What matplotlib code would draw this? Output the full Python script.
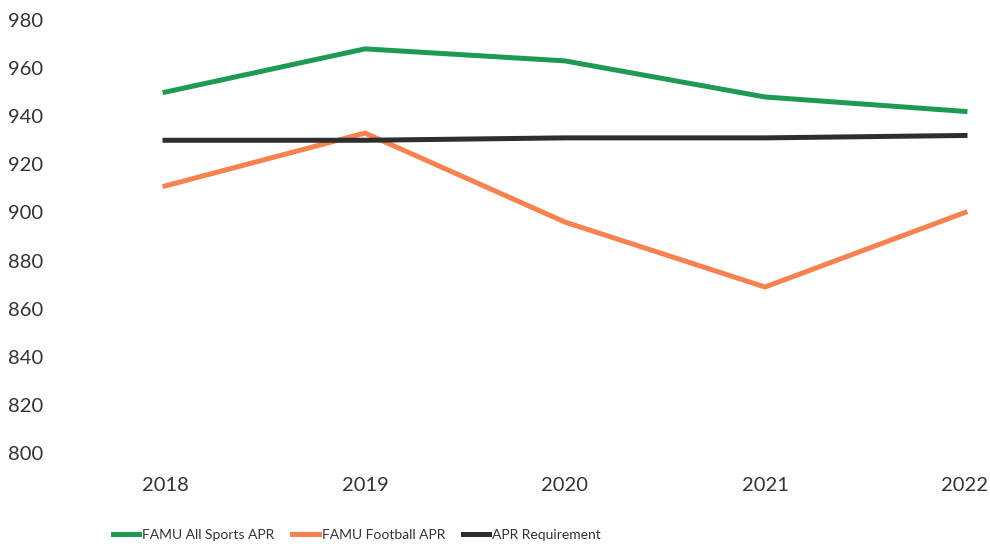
import matplotlib.pyplot as plt

years = ['2018', '2019', '2020', '2021', '2022']
all_sports = [950, 968, 963, 948, 942]
football = [911, 933, 896, 869, 900]
requirement = [930, 930, 931, 931, 932]

plt.rcParams['font.family'] = ['Lato', 'DejaVu Sans']

fig = plt.figure(figsize=(9.9, 5.46), dpi=100)
ax = fig.add_axes([65/990, 1 - 453/546, 925/990, 433/546])

x = range(len(years))
ax.plot(x, all_sports, color='#1f9a52', lw=3.6, label='FAMU All Sports APR')
ax.plot(x, football, color='#f7814f', lw=3.6, label='FAMU Football APR')
ax.plot(x, requirement, color='#2e2e2e', lw=3.6, label='APR Requirement')

ax.set_xlim(-0.5, 4.125)
ax.set_ylim(800, 980)
ax.set_yticks(range(800, 981, 20))
ax.set_xticks(list(x))
ax.set_xticklabels(years)
for s in ax.spines.values():
    s.set_visible(False)
ax.tick_params(axis='y', length=0, pad=16, labelsize=14.5, labelcolor='#333333')
ax.tick_params(axis='x', length=0, pad=17, labelsize=14.5, labelcolor='#333333')

fig.legend(loc='center', bbox_to_anchor=(357/990, 0.02), ncol=3, frameon=False,
           fontsize=10, handlelength=1.9, handletextpad=0.2, columnspacing=1.3,
           labelcolor='#333333')

fig.savefig('out.png', dpi=100)
